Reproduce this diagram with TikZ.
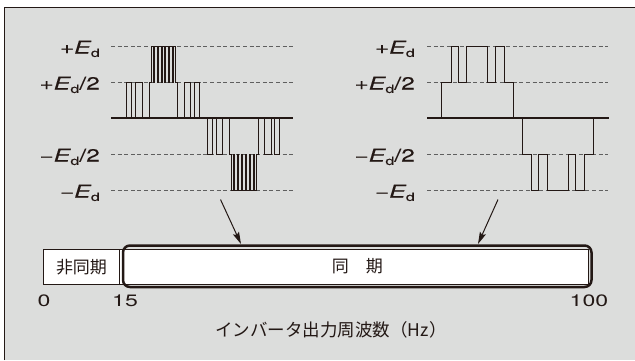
\documentclass[tikz,border=0pt]{standalone}
\usepackage{fontspec}
\setmainfont{TeX Gyre Heros}[FakeStretch=1.4, FakeBold=0.3]
\newfontfamily\numfont{TeX Gyre Heros}[FakeStretch=1.4]
\newfontfamily\jpfont{Noto Sans CJK JP}
\usetikzlibrary{arrows.meta}
\definecolor{panel}{RGB}{220,221,220}
\definecolor{ink}{RGB}{35,24,21}
\definecolor{dashc}{RGB}{95,95,95}
\newcommand\EdSym{{\itshape E}\kern0.3pt\raisebox{-3.4pt}{\fontsize{11.5}{11.5}\selectfont d}}
\tikzset{
  lab/.style={anchor=base east, inner sep=0pt, text=ink, font=\fontsize{17.5}{17.5}\selectfont},
  dashln/.style={draw=dashc, line width=0.8pt, dash pattern=on 4pt off 2.6pt},
  zeroln/.style={draw=ink, line width=2.7pt},
  wave/.style={draw=ink, line width=0.8pt, line join=miter},
  cell/.style={draw=ink, line width=0.8pt, fill=white, inner sep=0pt, minimum height=35pt, text=ink, font=\jpfont\fontsize{17}{17}\selectfont},
  hilite/.style={draw=ink, line width=2.5pt, rounded corners=7pt, inner sep=0pt, minimum height=41.5pt, text=ink, font=\jpfont\fontsize{17}{17}\selectfont},
  arr/.style={draw=ink, line width=1pt, -{Stealth[length=12pt,width=6.5pt,inset=2pt]}},
  num/.style={inner sep=0pt, text=ink, font=\numfont\fontsize{16.5}{16.5}\selectfont},
  ttl/.style={inner sep=0pt, text=ink, font=\jpfont\fontsize{17.5}{17.5}\selectfont}
}
\begin{document}
\begin{tikzpicture}[x=1pt,y=-1pt]
\useasboundingbox (0,0) rectangle (635,360);
\fill[panel] (4.5,7.5) rectangle (635,360);
\draw[ink, line width=1.3pt] (4.5,360) -- (4.5,7.5) -- (635,7.5);

% ---------- left waveform ----------
\foreach \yy in {46,82,154,190} \draw[dashln] (111,\yy) -- (293,\yy);
\node[lab] (lpe)  at (100,53.5)  {+\EdSym};
\node[lab] (lph)  at (100,89.5)  {+\EdSym/2};
\node[lab] (lmh)  at (100,161.5) {−\EdSym/2};
\node[lab] (lme)  at (100,197.5) {−\EdSym};

\draw[wave] (126.7,118) |- (131.7,82) |- (135.7,118) |- (142.3,82) |- (149,118)
  |- (151,82) |- (153,46) |- (154,82) |- (157,46) |- (158,82) |- (161,46) |- (162,82)
  |- (164.7,46) |- (165.7,82) |- (168.7,46) |- (169.7,82) |- (172.7,46) |- (173.7,82)
  |- (175.7,46) |- (177.7,82) |- (184.3,118) |- (190.7,82) |- (194.3,118) |- (199.3,82)
  -- (199.3,118);
\draw[wave] (207.2,118) |- (212.2,154) |- (216.2,118) |- (222.8,154) |- (229.5,118)
  |- (231.5,154) |- (233.5,190) |- (234.5,154) |- (237.5,190) |- (238.5,154) |- (241.5,190) |- (242.5,154)
  |- (245.2,190) |- (246.2,154) |- (249.2,190) |- (250.2,154) |- (253.2,190) |- (254.2,154)
  |- (256.2,190) |- (258.2,154) |- (264.8,118) |- (271.2,154) |- (274.8,118) |- (279.8,154)
  -- (279.8,118);
\draw[zeroln] (111,118) -- (293,118);

% ---------- right waveform ----------
\foreach \yy in {46,82,154,190} \draw[dashln] (427,\yy) -- (608,\yy);
\node[lab] (rpe)  at (415,53.5)  {+\EdSym};
\node[lab] (rph)  at (415,89.5)  {+\EdSym/2};
\node[lab] (rmh)  at (415,161.5) {−\EdSym/2};
\node[lab] (rme)  at (415,197.5) {−\EdSym};

\draw[wave] (441.7,118) |- (451,82) |- (458.3,46) |- (466.7,82) |- (487.7,46)
  |- (495,82) |- (504,46) |- (513.3,82) -- (513.3,118);
\draw[wave] (522.2,118) |- (531.5,154) |- (538.8,190) |- (547.2,154) |- (568.2,190)
  |- (575.5,154) |- (584.5,190) |- (593.8,154) -- (593.8,118);
\draw[zeroln] (427,118) -- (609,118);

% ---------- frequency bar ----------
\node[cell, minimum width=76pt] (async) at (81.5,267) {非同期};
\node[cell, minimum width=468.5pt] (syncbar) at (353.75,267) {};
\node[hilite, minimum width=468.5pt] (sync) at (357.25,266.25) {同\hspace{1em}期};

\coordinate (a1s) at (220.5,199.5);
\coordinate (a1t) at (241,244);
\coordinate (a2s) at (498,199.5);
\coordinate (a2t) at (478,244);
\draw[arr] (a1s) -- (a1t);
\draw[arr] (a2s) -- (a2t);

\node[num] (n0)   at (44,301)  {0};
\node[num] (n15)  at (125,301) {15};
\node[num] (n100) at (589,301) {100};

\node[ttl] (title) at (331,329.5) {インバータ出力周波数（Hz）};
\end{tikzpicture}
\end{document}
